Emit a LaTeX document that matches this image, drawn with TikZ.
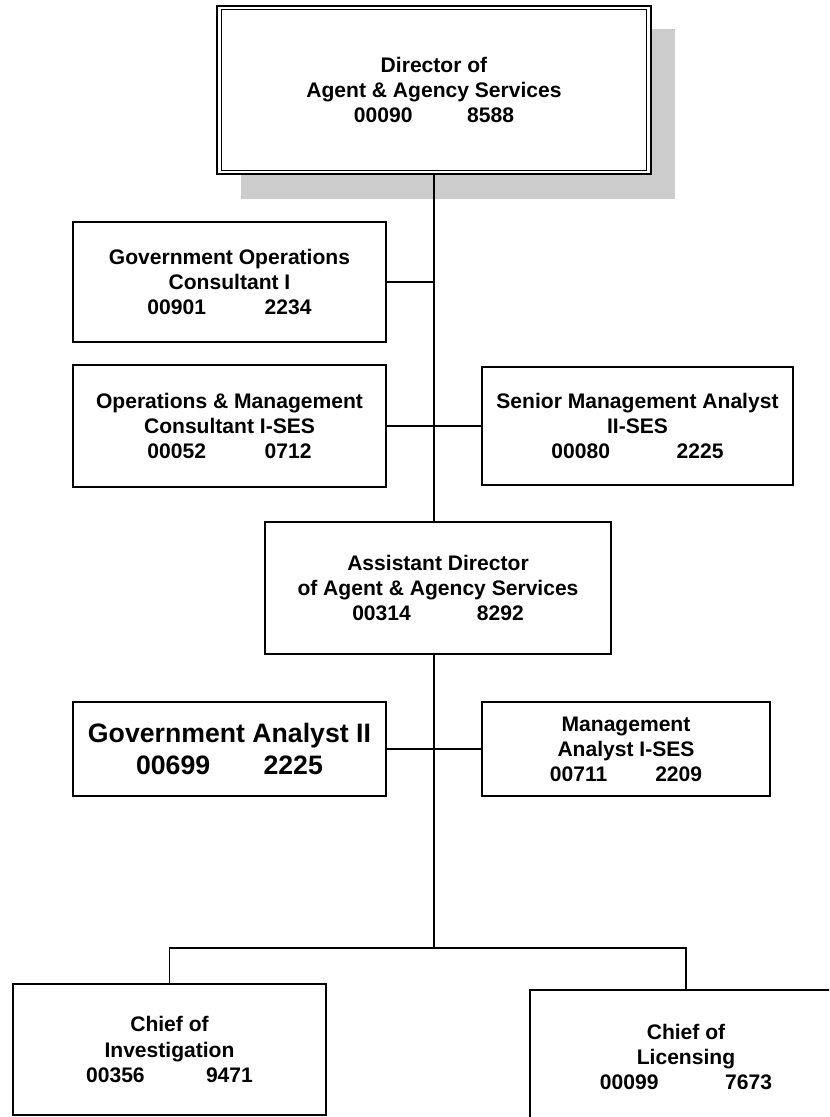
\documentclass[tikz,border=0pt]{standalone}
\usepackage{fontspec}
\setmainfont{Liberation Sans}
\begin{document}
\begin{tikzpicture}[x=0.75pt,y=-0.75pt,
  post/.style={draw=black,fill=white,line width=1.5pt,rectangle,inner sep=0pt,
    align=center,font=\bfseries\fontsize{15.8}{18.8}\selectfont},
  bigpost/.style={post,font=\bfseries\fontsize{20}{24}\selectfont},
  link/.style={draw=black,line width=1.4pt},
  shade/.style={fill=black!20,draw=none}]
\useasboundingbox (0,0) rectangle (829,1117);
\clip (0,0) rectangle (829,1117);

% drop shadow behind the director's box
\fill[shade] (241,29) rectangle (675,199);

% director (double frame)
\node[post,line width=2.2pt,minimum width=325.5pt,minimum height=126pt] (dir) at (434,90)
  {Director of\\Agent \& Agency Services\\00090\hspace{41pt}8588};
\draw[line width=1.4pt] ([shift={(6,5)}]dir.north west) rectangle ([shift={(-6,-5)}]dir.south east);

% staff positions
\node[post,minimum width=234.75pt,minimum height=90pt] (govops) at (229.5,282)
  {Government Operations\\Consultant I\\00901\hspace{44pt}2234};
\node[post,minimum width=234.75pt,minimum height=91.5pt] (opsmgmt) at (229.5,426)
  {Operations \& Management\\Consultant I-SES\\00052\hspace{44pt}0712};
\node[post,minimum width=233.25pt,minimum height=88.5pt] (senior) at (637.5,426)
  {Senior Management Analyst\\II-SES\\00080\hspace{50pt}2225};

% assistant director
\node[post,minimum width=259.5pt,minimum height=99pt] (asst) at (438,588)
  {Assistant Director\\of Agent \& Agency Services\\00314\hspace{49.5pt}8292};

% assistant director's staff
\node[bigpost,minimum width=234.75pt,minimum height=70.5pt] (govan) at (229.5,749)
  {Government Analyst II\\00699\hspace{40pt}2225};
\node[post,minimum width=216pt,minimum height=70.5pt] (mgmtan) at (626,749)
  {Management\\Analyst I-SES\\00711\hspace{36pt}2209};

% section chiefs
\node[post,minimum width=234.75pt,minimum height=98.25pt] (chinv) at (169.5,1049.5)
  {Chief of\\Investigation\\00356\hspace{46pt}9471};
\node[post,minimum width=234pt,minimum height=100.5pt] (chlic) at (686,1057)
  {Chief of\\Licensing\\00099\hspace{50pt}7673};

% reporting lines
\coordinate (split) at (434,948);
\draw[link] (dir.south) -- (dir.south |- asst.north);
\draw[link] (govops.east) -- (govops.east -| dir.south);
\draw[link] (opsmgmt.east) -- (senior.west);
\draw[link] (asst.south -| split) -- (split);
\draw[link] (govan.east) -- (mgmtan.west);
\draw[link] (chinv.north) -- (chinv.north |- split) -- (chlic.north |- split) -- (chlic.north);
\end{tikzpicture}
\end{document}
